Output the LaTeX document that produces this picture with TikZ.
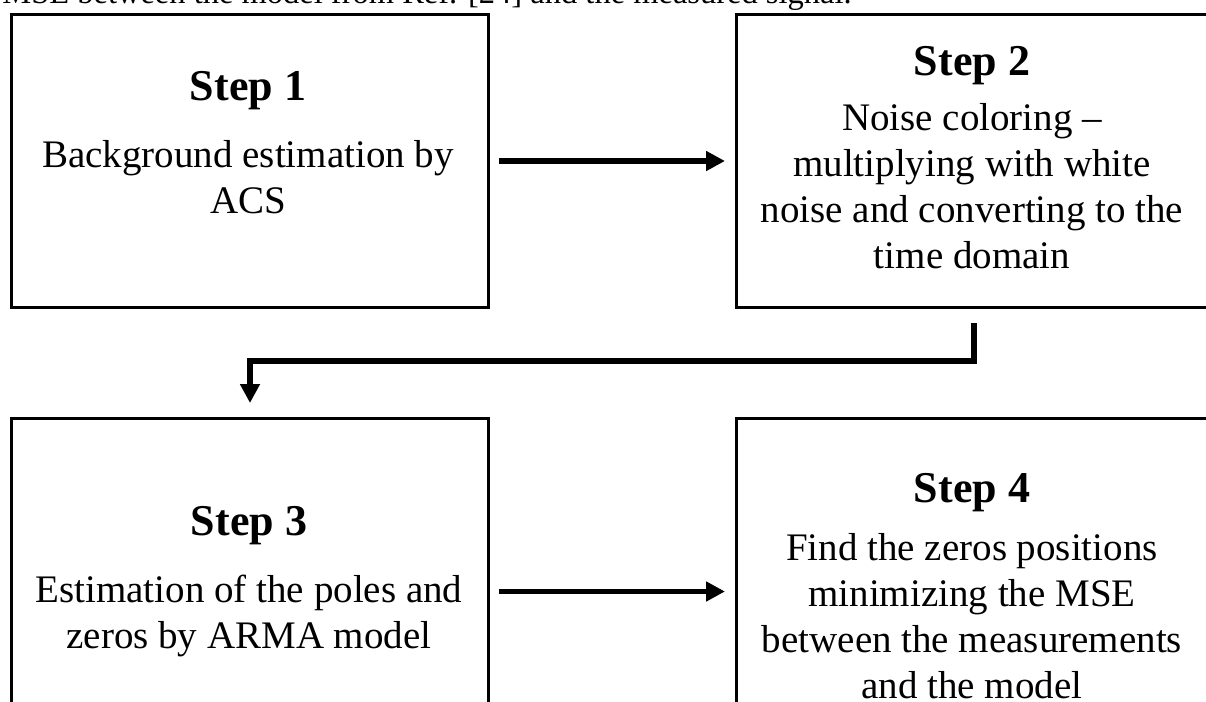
\documentclass[tikz,border=0pt]{standalone}
\usepackage{fontspec}
\setmainfont{Liberation Serif}
\usetikzlibrary{positioning,arrows.meta}

\tikzset{
  stepbox/.style={draw,line width=1.5pt,inner sep=0pt,minimum width=238.5pt,
    minimum height=146.5pt,anchor=north west},
  steptitle/.style={font=\fontsize{22}{26}\selectfont\bfseries,inner sep=0pt,anchor=base},
  steptext/.style={font=\fontsize{19.5}{23}\selectfont,align=center,inner sep=0pt,anchor=north},
  flow/.style={line width=2.8pt,-{Triangle[length=9.5pt,width=9.5pt]}},
}

\begin{document}
\begin{tikzpicture}[x=0.5pt,y=-0.5pt]
  \useasboundingbox (0,0) rectangle (1206,702);
  % caption line, cut by the page
  \node[anchor=base west,inner sep=0pt,font=\fontsize{16.25}{20}\selectfont] (capline) at (2,3)
    {MSE between the model from Ref. [24] and the measured signal.};
  % boxes
  \node[stepbox] (b1) at (10,13) {};
  \node[stepbox,minimum width=237.5pt] (b2) at (735,13) {};
  \node[stepbox,minimum height=173pt] (b3) at (10,417) {};
  \node[stepbox,minimum width=237.5pt,minimum height=173pt] (b4) at (735,417) {};
  % texts
  \node[steptitle] (t1) at (248,100) {Step 1};
  \node[steptext] (x1) at (248,140) {Background estimation by\\ACS};
  \node[steptitle] (t2) at (972,75) {Step 2};
  \node[steptext] (x2) at (972,103) {Noise coloring --\\multiplying with white\\noise and converting to the\\time domain};
  \node[steptitle] (t3) at (249,535) {Step 3};
  \node[steptext] (x3) at (249,575) {Estimation of the poles and\\zeros by ARMA model};
  \node[steptitle] (t4) at (972,502) {Step 4};
  \node[steptext] (x4) at (972,533) {Find the zeros positions\\minimizing the MSE\\between the measurements\\and the model};
  % arrows
  \coordinate (turn) at (600,361);
  \draw[flow,shorten <=4.5pt,shorten >=5pt] (b1) -- (b2);
  \draw[flow,shorten <=7pt,shorten >=7pt] (b2.south) -- (b2.south |- turn) -| (b3.north);
  \draw[flow,shorten <=4.5pt,shorten >=5pt] (b3) -- (b4);
\end{tikzpicture}
\end{document}
